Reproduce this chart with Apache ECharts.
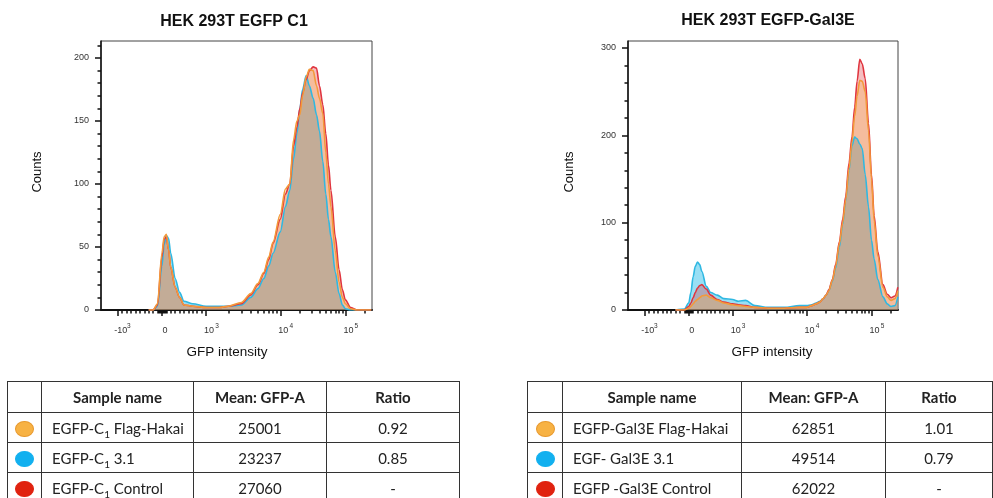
<!DOCTYPE html>
<html>
<head>
<meta charset="utf-8">
<script src="https://cdn.jsdelivr.net/npm/echarts@6/dist/echarts.min.js"></script>
<style>
  body { margin: 0; background: #fff; overflow: hidden; }
  #chart { position: absolute; left: 0; top: 0; width: 993px; height: 498px; }
  table.stats {
    position: absolute; top: 381px; border-collapse: collapse; table-layout: fixed;
    font-family: Lato, "Open Sans", sans-serif; font-size: 15px; color: #222;
  }
  table.stats td, table.stats th { border: 1.3px solid #333; padding: 0; height: 29px; }
  table.stats th { font-weight: bold; text-align: center; height: 30px; }
  table.stats td.name { text-align: left; padding-left: 10px; white-space: nowrap; }
  table.stats td.num { text-align: center; }
  table.stats td.dot { text-align: center; }
  .dot span { display: inline-block; width: 17px; height: 14px; border-radius: 50%; vertical-align: middle; }
  sub { font-size: 10px; line-height: 0; }
</style>
</head>
<body>
<div id="chart"></div>
<table class="stats" id="tblLeft" style="left:7px"></table>
<table class="stats" id="tblRight" style="left:527px"></table>
<script>
// ---- histogram data (GFP intensity -> counts) ----
const xLeft = [-300, -200, -100, 0, 50, 100, 150, 200, 300, 400, 500, 700, 1000, 1500, 2000, 3000,
  4000, 5000, 6000, 7000, 8000, 10000, 12000, 14000, 16000, 18000, 20000, 22000, 25000, 28000,
  32000, 36000, 40000, 45000, 50000, 55000, 60000, 70000, 80000, 90000, 100000, 120000, 150000,
  200000, 250000];
const leftHakai = [0, 0, 5, 45, 58, 60, 48, 34, 18, 10, 4, 3, 2, 2, 3, 6, 13, 21, 30, 42, 54, 76, 96,
  100, 135, 150, 155, 170, 185, 191, 190, 178, 168, 156, 125, 100, 82, 47, 22, 10, 5, 1, 0, 0, 0];
const left31 = [0, 0, 3, 35, 52, 59, 57, 45, 25, 14, 7, 5, 3, 3, 3, 4, 10, 17, 25, 35, 45, 62, 82,
  95, 120, 140, 160, 175, 186, 178, 168, 155, 142, 118, 92, 72, 58, 30, 13, 4, 1, 0, 0, 0, 0];
const leftControl = [0, 0, 4, 42, 56, 58, 48, 34, 18, 10, 4, 3, 2, 2, 3, 5, 12, 20, 29, 40, 53, 72,
  92, 100, 130, 145, 160, 172, 183, 190, 193, 192, 178, 163, 140, 115, 95, 58, 32, 16, 8, 2, 0, 0, 0];

const xRight = [-300, -100, 0, 50, 100, 150, 200, 250, 300, 400, 500, 650, 800, 1000, 1200, 1500,
  2000, 3000, 5000, 8000, 10000, 12000, 14000, 16000, 18000, 20000, 22000, 25000, 28000, 32000,
  36000, 40000, 45000, 50000, 55000, 60000, 66000, 72000, 80000, 90000, 100000, 110000, 125000,
  150000, 175000, 200000, 230000, 255000];
const rightHakai = [0, 0, 2, 4, 7, 10, 12, 14, 16, 17, 14, 11, 8, 6, 5, 4, 3, 2, 2, 3,
  3, 5, 7, 9, 13, 17, 22, 34, 50, 76, 100, 126, 162, 192, 222, 245, 263, 262, 250, 205,
  150, 102, 62, 26, 15, 11, 13, 22];
const right31 = [0, 1, 8, 20, 38, 50, 55, 52, 44, 27, 20, 17, 13, 12, 10, 11, 5, 3, 3, 5,
  5, 6, 8, 10, 13, 17, 22, 33, 48, 72, 98, 125, 160, 188, 198, 196, 190, 185, 155, 118,
  80, 58, 35, 15, 7, 4, 5, 15];
const rightControl = [0, 0, 4, 8, 14, 20, 25, 28, 29, 24, 17, 12, 9, 7, 6, 5, 3, 2, 2, 3,
  3, 5, 7, 9, 13, 17, 23, 35, 52, 78, 104, 130, 168, 198, 232, 262, 287, 282, 265, 214,
  155, 108, 67, 29, 18, 14, 16, 26];

// ---- axis ticks ----
const majorTicks = [-1000, 0, 1000, 10000, 100000];
const majorBase = ['-10', '0', '10', '10', '10'];
const majorExp = ['3', '', '3', '4', '5'];
const leftCountTicks = [0, 50, 100, 150, 200];
const rightCountTicks = [0, 100, 200, 300];

// ---- table data ----
const sampleColors = ['#f7b244', '#12b0ef', '#e0220f'];
const sampleBorders = ['#e8982c', '#12b0ef', '#e0220f'];
const leftNames = ['EGFP-C<sub>1</sub> Flag-Hakai', 'EGFP-C<sub>1</sub> 3.1', 'EGFP-C<sub>1</sub> Control'];
const leftMeans = ['25001', '23237', '27060'];
const leftRatios = ['0.92', '0.85', '-'];
const rightNames = ['EGFP-Gal3E Flag-Hakai', 'EGF- Gal3E 3.1', 'EGFP -Gal3E Control'];
const rightMeans = ['62851', '49514', '62022'];
const rightRatios = ['1.01', '0.79', '-'];

// biexponential-like display transform (linear around 0, log per decade above 10^3)
const LIN_LIMIT = 1000, LIN_SPAN = 0.63, DEC_SPAN = [1.06, 0.93];
function toDisplay(v) {
  const a = Math.abs(v);
  if (a <= LIN_LIMIT) return v / LIN_LIMIT * LIN_SPAN;
  const l = Math.log10(a / LIN_LIMIT);
  const d = l <= 1 ? l * DEC_SPAN[0] : DEC_SPAN[0] + (l - 1) * DEC_SPAN[1];
  return Math.sign(v) * (LIN_SPAN + d);
}

const minorTicks = [];
for (let v = -900; v <= 900; v += 100) if (v !== 0) minorTicks.push(v);
for (let v = -80; v <= 80; v += 20) if (v !== 0) minorTicks.push(v);
for (let k = 2; k <= 9; k++) minorTicks.push(k * 1000, k * 10000);
minorTicks.push(200000);

const X_MIN = -0.87, X_MAX = 3.0;
const TICK = { color: '#111', width: 1.5 };
const LABEL_FONT = 'Liberation Sans, Arial, sans-serif';
const majorDisp = majorTicks.map(toDisplay);
const pick = (arr) => (val) => {
  const i = majorDisp.findIndex(d => Math.abs(d - val) < 1e-6);
  return i >= 0 ? arr[i] : '';
};

function xAxes(gi) {
  const base = { type: 'value', gridIndex: gi, min: X_MIN, max: X_MAX, position: 'bottom', splitLine: { show: false } };
  return [{
    ...base,
    axisLine: { show: true, onZero: false, lineStyle: { color: '#111', width: 2 } },
    axisTick: { customValues: majorDisp, length: 6, lineStyle: TICK },
    axisLabel: { customValues: majorDisp, margin: 16, padding: [0, 0, 0, 6], formatter: pick(majorBase),
      fontSize: 9, fontFamily: LABEL_FONT, color: '#333' }
  }, {
    ...base,
    axisLine: { show: false, onZero: false },
    axisTick: { customValues: minorTicks.map(toDisplay), length: 3.5, lineStyle: TICK },
    axisLabel: { show: false }
  }, {
    // exponents of the decade labels
    ...base,
    axisLine: { show: false, onZero: false },
    axisTick: { show: false },
    axisLabel: { customValues: majorDisp, margin: 13, padding: [0, 0, 0, 22], formatter: pick(majorExp),
      fontSize: 6.5, fontFamily: LABEL_FONT, color: '#333' }
  }];
}

function yAxes(gi, max, ticks, step) {
  const minor = [];
  for (let v = step; v <= max; v += step) if (!ticks.includes(v)) minor.push(v);
  const base = { type: 'value', gridIndex: gi, min: 0, max: max, position: 'left', splitLine: { show: false } };
  return [{
    ...base,
    axisLine: { show: true, onZero: false, lineStyle: { color: '#111', width: 1.5 } },
    axisTick: { customValues: ticks, length: 6, lineStyle: TICK },
    axisLabel: { customValues: ticks, margin: 12, fontSize: 9, fontFamily: LABEL_FONT, color: '#333' }
  }, {
    ...base,
    axisLine: { show: false, onZero: false },
    axisTick: { customValues: minor, length: 3.5, lineStyle: TICK },
    axisLabel: { show: false }
  }];
}

function hist(gi, xs, ys, line, fill) {
  return {
    type: 'line', xAxisIndex: gi * 3, yAxisIndex: gi * 2,
    data: xs.map((x, i) => [toDisplay(x), ys[i]]),
    smooth: 0.3, smoothMonotone: 'x', symbol: 'none', silent: true,
    lineStyle: { color: line, width: 1.6 },
    areaStyle: { color: fill, origin: 'start' }
  };
}

const CYAN = ['#2fb8e2', 'rgba(30,185,230,0.65)'];
const RED = ['#e0353f', 'rgba(225,50,60,0.45)'];
const ORANGE = ['#f39a3a', 'rgba(245,182,72,0.42)'];

const textStyle = (t, size, weight) => ({
  text: t, fontSize: size, fontWeight: weight || 'normal', fontFamily: LABEL_FONT,
  fill: '#111', align: 'center', verticalAlign: 'middle'
});

const chart = echarts.init(document.getElementById('chart'), null, { renderer: 'canvas' });
chart.setOption({
  animation: false,
  grid: [
    { left: 101, top: 41, width: 271, height: 269, show: true, borderColor: '#444', borderWidth: 1 },
    { left: 628, top: 41, width: 270, height: 269, show: true, borderColor: '#444', borderWidth: 1 }
  ],
  xAxis: [...xAxes(0), ...xAxes(1)],
  yAxis: [...yAxes(0, 213.5, leftCountTicks, 10), ...yAxes(1, 308, rightCountTicks, 20)],
  series: [
    hist(0, xLeft, left31, ...CYAN),
    hist(0, xLeft, leftControl, ...RED),
    hist(0, xLeft, leftHakai, ...ORANGE),
    hist(1, xRight, right31, ...CYAN),
    hist(1, xRight, rightControl, ...RED),
    hist(1, xRight, rightHakai, ...ORANGE)
  ],
  graphic: [
    { type: 'text', x: 234, y: 22, style: textStyle('HEK 293T EGFP C1', 16, 'bold') },
    { type: 'text', x: 768, y: 21, style: textStyle('HEK 293T EGFP-Gal3E', 16, 'bold') },
    { type: 'text', x: 37, y: 172, rotation: Math.PI / 2, style: textStyle('Counts', 13) },
    { type: 'text', x: 569, y: 172, rotation: Math.PI / 2, style: textStyle('Counts', 13) },
    { type: 'text', x: 227, y: 352, style: textStyle('GFP intensity', 13.5) },
    { type: 'text', x: 772, y: 352, style: textStyle('GFP intensity', 13.5) }
  ]
});

function buildTable(id, widths, names, means, ratios) {
  let html = '<colgroup>' + widths.map(w => '<col style="width:' + w + 'px">').join('') + '</colgroup>';
  html += '<tr><th></th><th>Sample name</th><th>Mean: GFP-A</th><th>Ratio</th></tr>';
  names.forEach((n, i) => {
    html += '<tr><td class="dot"><span style="background:' + sampleColors[i] +
      ';border:1px solid ' + sampleBorders[i] + '"></span></td><td class="name">' + n +
      '</td><td class="num">' + means[i] + '</td><td class="num">' + ratios[i] + '</td></tr>';
  });
  document.getElementById(id).innerHTML = html;
}
buildTable('tblLeft', [34, 152, 133, 133], leftNames, leftMeans, leftRatios);
buildTable('tblRight', [35, 179, 144, 107], rightNames, rightMeans, rightRatios);
</script>
</body>
</html>
